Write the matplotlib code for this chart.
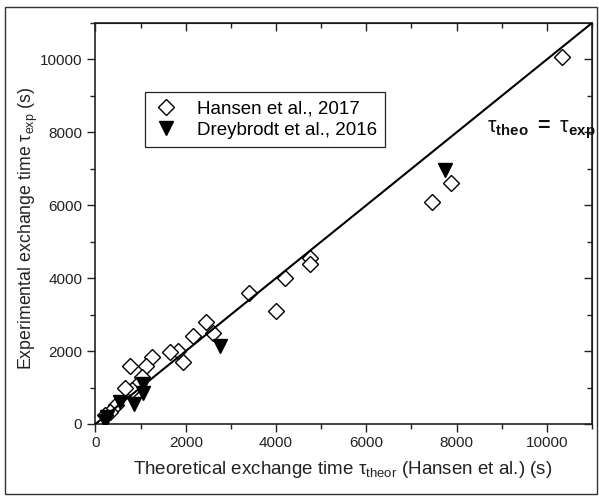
import matplotlib
matplotlib.use("Agg")
import matplotlib.pyplot as plt
from matplotlib.patches import Rectangle

plt.rcParams['font.family'] = ['Liberation Sans', 'DejaVu Sans']
plt.rcParams['mathtext.fontset'] = 'custom'
plt.rcParams['mathtext.rm'] = 'Liberation Sans'
plt.rcParams['mathtext.bf'] = 'Liberation Sans:bold'
plt.rcParams['mathtext.it'] = 'Liberation Sans:italic'

# Data
hansen_x = [10330, 7870, 7450, 4750, 4750, 4200, 4000, 3400, 2600, 2450, 2150,
            1950, 1830, 1650, 1250, 1130, 770, 1020, 900, 800, 650, 450, 330, 220]
hansen_y = [10080, 6600, 6100, 4550, 4400, 4000, 3100, 3600, 2500, 2800, 2400,
            1700, 2000, 1980, 1850, 1580, 1580, 1300, 1050, 930, 980, 520, 340, 250]
drey_x = [7750, 2750, 1050, 1050, 850, 550, 220, 250]
drey_y = [6980, 2150, 1100, 850, 550, 600, 80, 200]
line_x = [0, 11000]
line_y = [0, 11000]
xticks = [0, 2000, 4000, 6000, 8000, 10000]
yticks = [0, 2000, 4000, 6000, 8000, 10000]

fig = plt.figure(figsize=(5.99, 4.96), dpi=100)
ax = fig.add_axes([0.1594, 0.1452, 0.8289, 0.8085])

ax.plot(hansen_x, hansen_y, linestyle='none', marker='D', ms=8.5, mfc='white',
        mec='black', mew=1.0, label='Hansen et al., 2017', zorder=3)
ax.plot(drey_x, drey_y, linestyle='none', marker='v', ms=10.5, mfc='black',
        mec='black', label='Dreybrodt et al., 2016', zorder=3)
ax.plot(line_x, line_y, color='black', lw=1.5, zorder=4)

ax.set_xlim(0, 11000)
ax.set_ylim(0, 11000)
ax.set_xticks(xticks)
ax.set_yticks(yticks)
ax.set_xticks(range(1000, 11001, 2000), minor=True)
ax.set_yticks(range(1000, 11001, 2000), minor=True)
ax.tick_params(which='both', direction='out', labelsize=11, width=1.0, colors='#222222')
ax.tick_params(which='major', length=5.5)
ax.tick_params(which='minor', length=3.5)
ax.tick_params(axis='y', pad=4)
ax.tick_params(axis='x', pad=3)
for sp in ax.spines.values():
    sp.set_linewidth(1.2)
    sp.set_color('#222222')

# top and right inward ticks
sx = ax.secondary_xaxis('top')
sx.set_xticks(xticks)
sx.set_xticks(range(1000, 11001, 2000), minor=True)
sx.tick_params(which='both', direction='in', labeltop=False, width=1.0, colors='#222222')
sx.tick_params(which='major', length=5.5)
sx.tick_params(which='minor', length=3.5)
sy = ax.secondary_yaxis('right')
sy.set_yticks(yticks)
sy.set_yticks(range(1000, 11001, 2000), minor=True)
sy.tick_params(which='both', direction='in', labelright=False, width=1.0, colors='#222222')
sy.tick_params(which='major', length=5.5)
sy.tick_params(which='minor', length=3.5)

ax.set_xlabel(r'Theoretical exchange time τ$_{\mathrm{theor}}$ (Hansen et al.) (s)',
              fontsize=13.5, color='#222222')
ax.set_ylabel(r'Experimental exchange time τ$_{\mathrm{exp}}$ (s)',
              fontsize=12.8, color='#222222')
ax.xaxis.set_label_coords(0.497, -0.088)
ax.yaxis.set_label_coords(-0.112, 0.4875)

ax.text(8670, 8000, r'τ$_{\mathbf{theo}}$ $\mathbf{=}$ τ$_{\mathbf{exp}}$',
        fontsize=15.5, ha='left', va='baseline', color='#111111')

leg = ax.legend(loc='upper left', bbox_to_anchor=(0.0997, 0.828), borderaxespad=0,
                fontsize=13.5, frameon=True, fancybox=False, framealpha=1,
                edgecolor='#222222', handlelength=1.3, handletextpad=1.0,
                labelspacing=0.22, borderpad=0.45, numpoints=1)
leg.get_frame().set_linewidth(0.9)

fig.patches.append(Rectangle((5/599, 2/496), 592/599, 487/496, transform=fig.transFigure,
                             fill=False, edgecolor='#333333', lw=1.0))

fig.savefig('out.png', dpi=100)
